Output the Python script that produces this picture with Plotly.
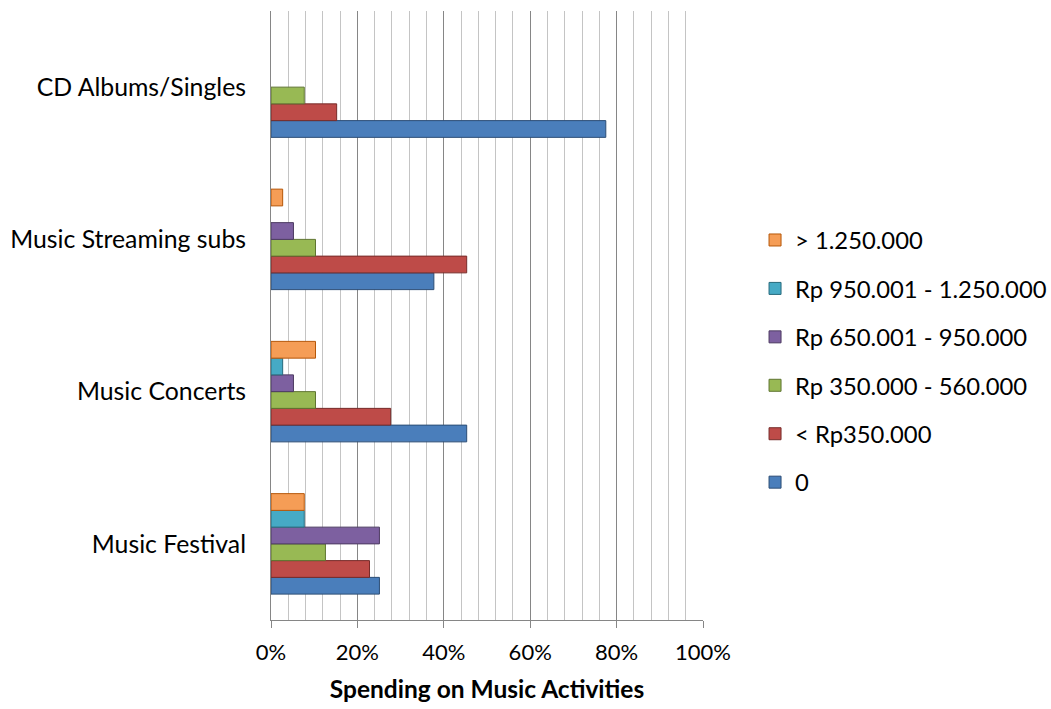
import plotly.graph_objects as go

categories = ["Music Festival", "Music Concerts", "Music Streaming subs", "CD Albums/Singles"]

series_names = ["0", "< Rp350.000", "Rp 350.000 - 560.000", "Rp 650.001 - 950.000",
                "Rp 950.001 - 1.250.000", "> 1.250.000"]

s_zero = [0.251, 0.453, 0.377, 0.775]
s_lt350 = [0.228, 0.277, 0.453, 0.152]
s_350_560 = [0.126, 0.103, 0.103, 0.077]
s_650_950 = [0.251, 0.052, 0.052, 0.0]
s_950_1250 = [0.077, 0.027, 0.0, 0.0]
s_gt1250 = [0.077, 0.103, 0.027, 0.0]

values = [s_zero, s_lt350, s_350_560, s_650_950, s_950_1250, s_gt1250]
colors = ["#4A7EBB", "#BE4B48", "#98B954", "#7D60A0", "#46AAC5", "#F59D56"]
lines = ["#2C4D75", "#772C2A", "#5F7530", "#4D3B62", "#276A7C", "#B65708"]

FONT = "Lato"

fig = go.Figure()
n = len(series_names)
for i, (name, vals) in enumerate(zip(series_names, values)):
    fig.add_trace(go.Bar(
        y=categories, x=vals, name=name, orientation="h",
        marker=dict(color=colors[i],
                    line=dict(color=lines[i], width=[1 if v > 0 else 0 for v in vals])),
        legendgroup=name, legendrank=n - i,
    ))

fig.update_layout(
    width=1051, height=709,
    margin=dict(l=271, r=348, t=11, b=89),
    paper_bgcolor="white", plot_bgcolor="white",
    barmode="group", bargap=0.34, bargroupgap=0,
    font=dict(family=FONT, size=24, color="#000000"),
    showlegend=True,
    legend=dict(
        traceorder="grouped", xref="container", yref="container",
        x=0.7184, y=1 - 218 / 709, xanchor="left", yanchor="top",
        font=dict(family=FONT, size=23.8, color="#000000"),
        tracegroupgap=14.5, itemwidth=30, bgcolor="rgba(0,0,0,0)",
    ),
    xaxis=dict(
        range=[0, 1], tickmode="linear", tick0=0, dtick=0.2, tickformat=".0%",
        showgrid=True, gridcolor="#868686", gridwidth=1,
        ticks="outside", ticklen=7, tickcolor="#868686", ticklabelstandoff=6,
        showline=True, linecolor="#868686", linewidth=1,
        zeroline=False,
        minor=dict(dtick=0.04, showgrid=True, gridcolor="#C4C4C4", gridwidth=1, ticks=""),
        title=dict(text="<b>Spending on Music Activities</b>", font=dict(family=FONT, size=24.5), standoff=16),
        tickfont=dict(family=FONT, size=22),
    ),
    yaxis=dict(
        categoryorder="array", categoryarray=categories,
        showgrid=False, showline=True, linecolor="#868686", linewidth=1,
        ticks="", ticklabelstandoff=19, tickfont=dict(family=FONT, size=24.8),
    ),
)

fig.write_html("out.html")
